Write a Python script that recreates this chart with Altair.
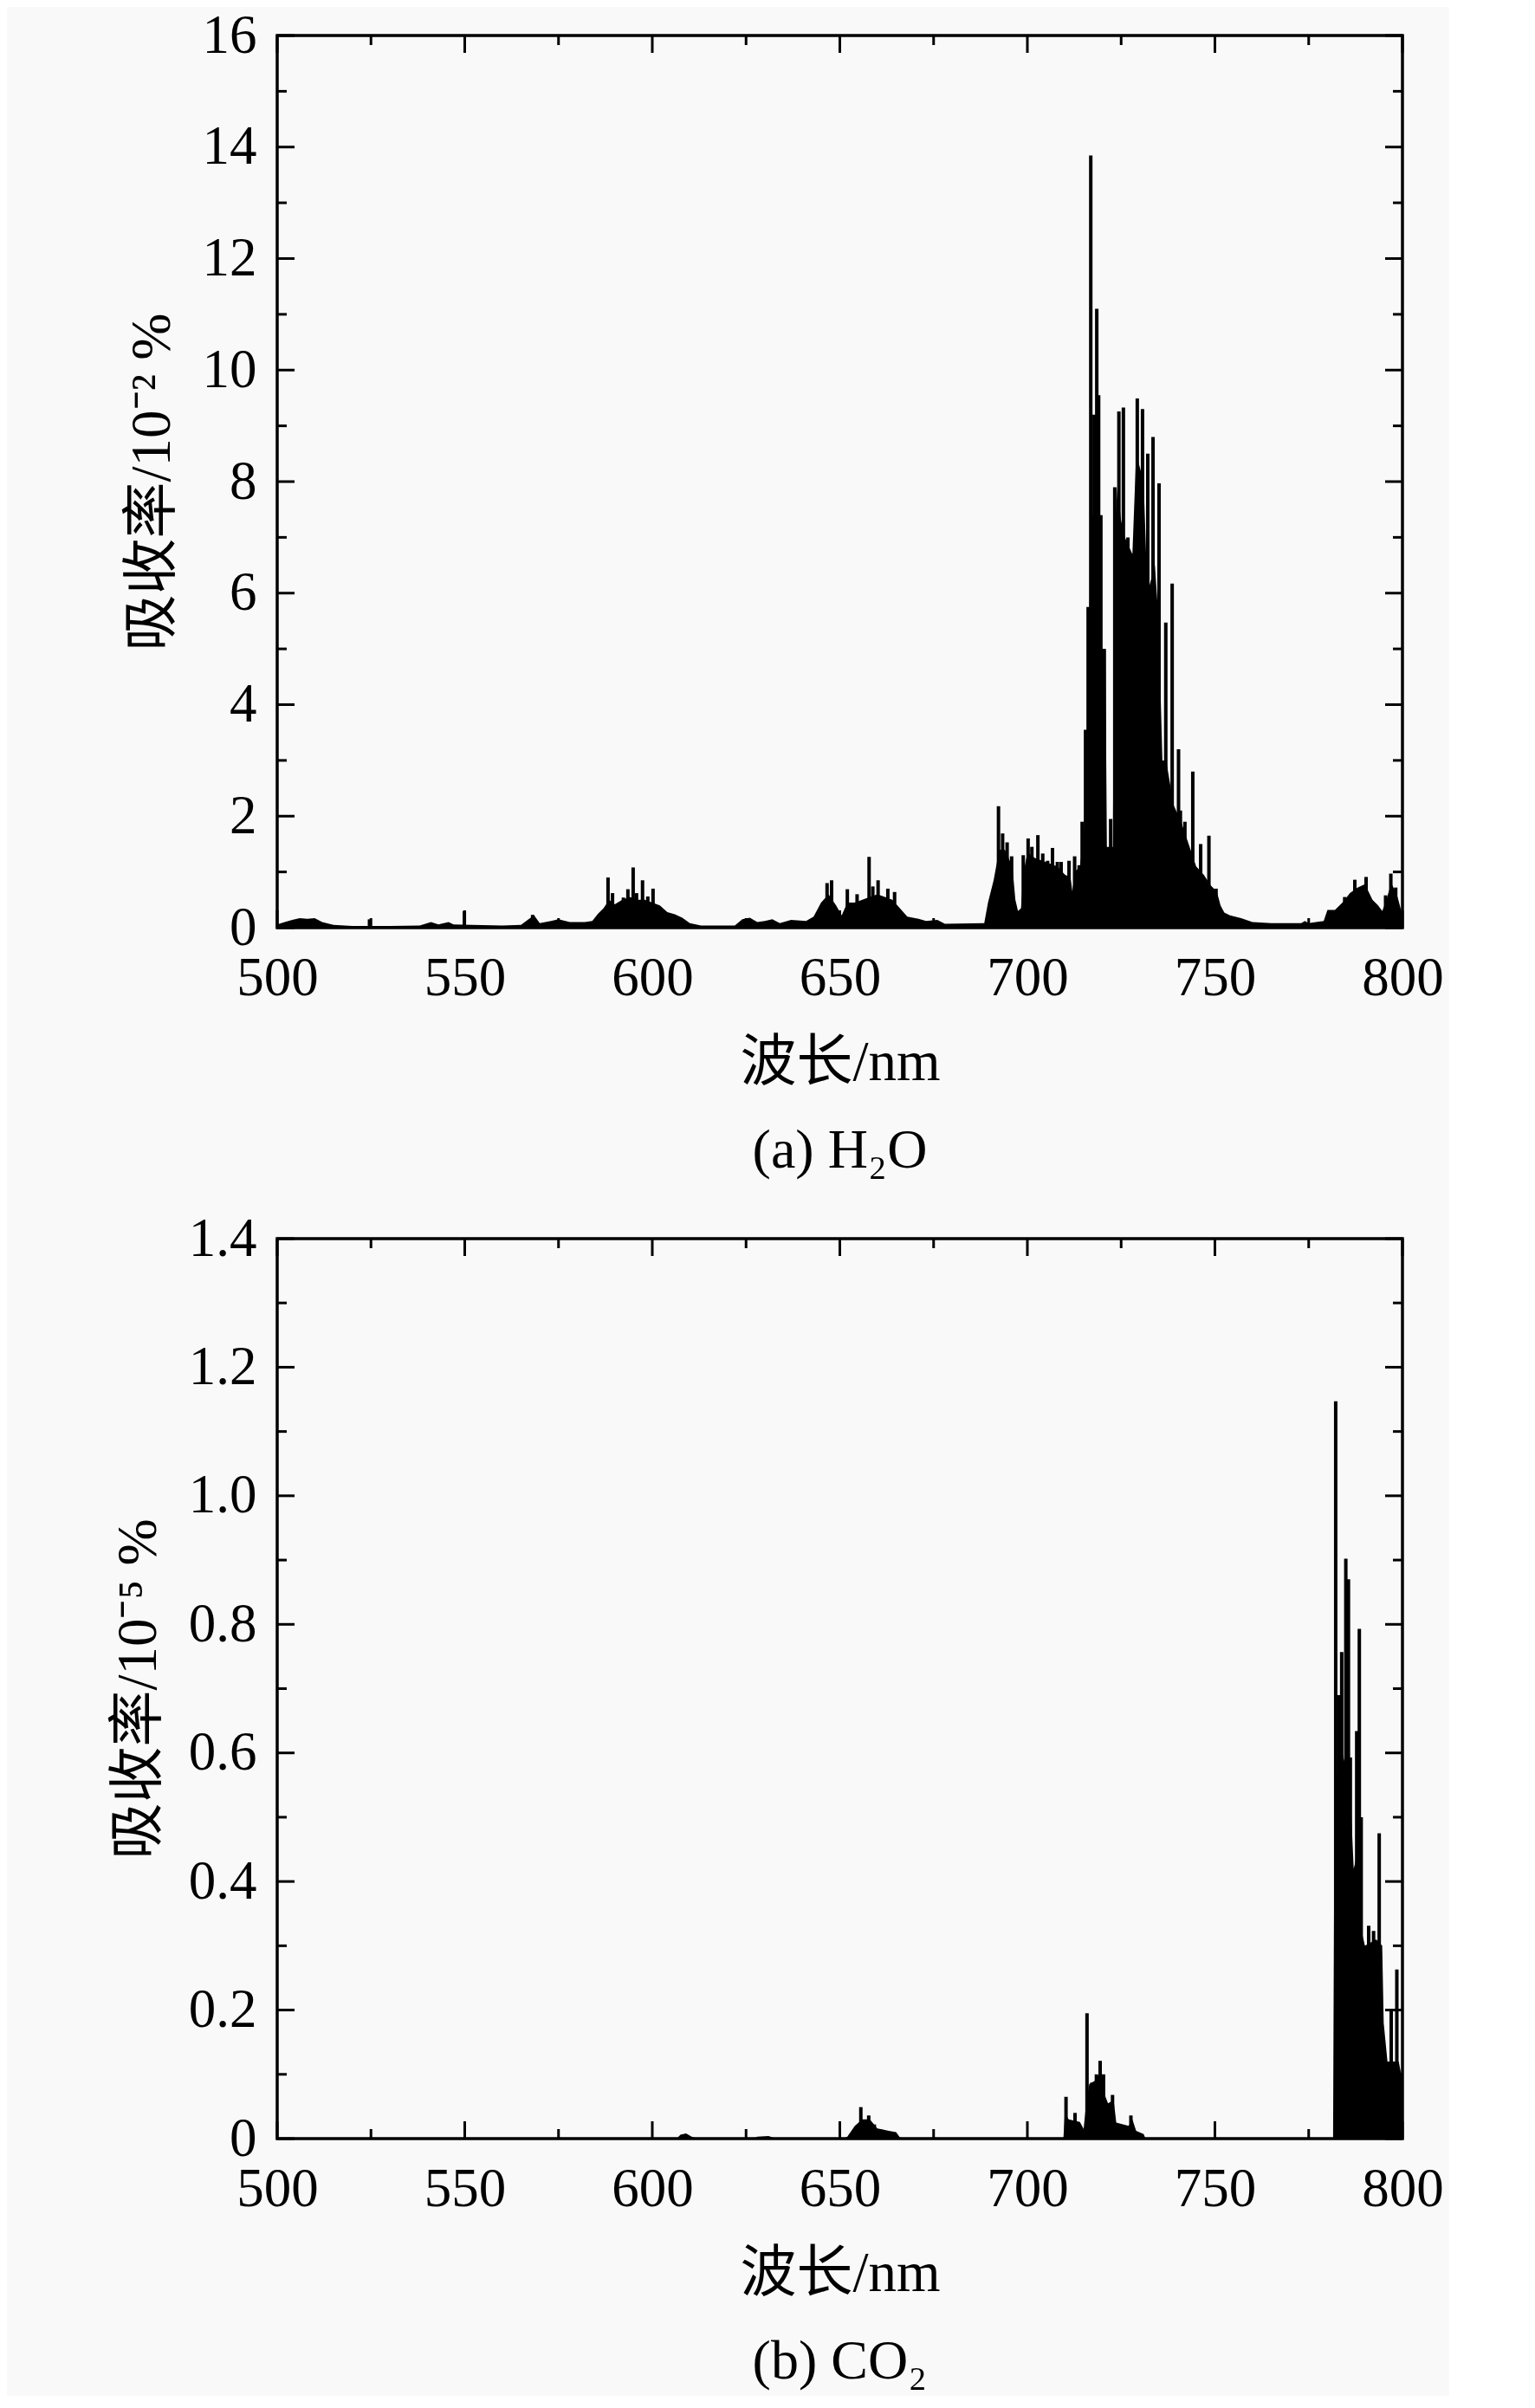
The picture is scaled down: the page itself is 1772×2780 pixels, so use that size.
import altair as alt
import pandas as pd

# ---------------- H2O (a) ----------------
h2o_env_wl = [500, 502, 504, 506, 508, 510, 512, 515, 520, 530, 538, 541, 543, 545.7, 547, 552, 560, 565, 567, 568.5,
              570, 573, 575, 578, 582, 584, 585.5, 587, 588.5, 590, 592, 594, 596, 598, 600, 602, 604, 606, 608, 610,
              613, 622, 624, 626, 628, 630, 632, 634, 637, 641, 643, 645, 647, 649, 650.5, 652, 654, 656, 658, 660,
              662, 664, 666, 668, 671, 673, 676, 678, 688.5, 689.5, 691, 692.5, 694, 696, 696.8, 697.5, 698.3, 699, 700, 702,
              704, 706, 708, 710, 711.5, 712, 712.6, 714, 715, 715.8, 716.5, 717, 719.5, 719.8, 720.8, 721.2, 722.8, 723.2,
              724, 725, 726, 728, 729, 731, 732, 734, 735, 736, 737, 739, 741, 743, 745, 747, 749, 750.5, 751.5, 752.5,
              754, 757, 760, 765, 773, 774, 775, 779, 780, 782, 784, 786, 788, 790, 792, 793.5, 794.6, 795.5, 797, 798.5,
              799.5, 800]
h2o_env_val = [0.06, 0.1, 0.14, 0.17, 0.16, 0.17, 0.1, 0.05, 0.03, 0.03, 0.04, 0.1, 0.06, 0.1, 0.06, 0.05, 0.04, 0.05, 0.15, 0.22,
               0.08, 0.12, 0.15, 0.1, 0.1, 0.12, 0.25, 0.35, 0.5, 0.42, 0.5, 0.55, 0.5, 0.5, 0.45, 0.4, 0.28, 0.24, 0.18, 0.08,
               0.04, 0.04, 0.15, 0.18, 0.1, 0.12, 0.15, 0.08, 0.14, 0.12, 0.2, 0.45, 0.6, 0.4, 0.22, 0.45, 0.45, 0.5, 0.55, 0.6,
               0.55, 0.5, 0.35, 0.2, 0.16, 0.12, 0.14, 0.07, 0.08, 0.45, 0.85, 1.4, 1.4, 1.1, 0.5, 0.3, 0.35, 1.0, 1.35, 1.25,
               1.2, 1.15, 1.1, 0.95, 0.9, 0.65, 1.0, 1.1, 1.6, 3.0, 5.5, 7.4, 7.4, 5.0, 5.0, 1.45, 1.45, 7.0,
               7.9, 7.3, 7.0, 6.7, 8.5, 8.0, 6.0, 6.5, 5.5, 3.0, 3.0, 2.2, 1.9, 1.5, 1.1, 0.95, 0.75, 0.65, 0.4, 0.27,
               0.22, 0.17, 0.1, 0.08, 0.08, 0.12, 0.08, 0.12, 0.32, 0.32, 0.45, 0.62, 0.72, 0.78, 0.5, 0.4, 0.3, 0.45, 0.8, 0.6,
               0.35, 0.25]
h2o_peak_wl = [524.6, 549.9, 568.1, 588.2, 589.4, 592.3, 593.5, 594.9, 595.8, 597.4, 598.8, 600.2, 646.6, 647.8, 652.0,
               654.6, 657.8, 658.8, 660.2, 662.8, 664.6, 692.3, 693.4, 694.6, 695.8, 698.9, 700.2, 701.2, 702.8, 704.1,
               705.4, 706.7, 708.0, 709.0, 711.1, 712.6, 713.8, 714.6, 715.5, 716.2, 716.9, 717.8, 718.5, 719.0, 719.6,
               720.5, 722.2, 723.3, 724.4, 725.6, 726.8, 727.3, 729.3, 730.7, 732.1, 733.5, 735.1, 736.9, 738.6, 740.3,
               740.8, 742.0, 744.1, 746.2, 748.4, 750.3, 784.6, 787.3, 790.3, 795.5, 796.9, 798.2]
h2o_peak_val = [0.15, 0.3, 0.23, 0.9, 0.62, 0.54, 0.69, 1.08, 0.62, 0.85, 0.56, 0.7, 0.8, 0.85, 0.69,
                0.6, 1.27, 0.74, 0.85, 0.7, 0.64, 2.18, 1.69, 1.53, 1.28, 1.3, 1.6, 1.45, 1.66, 1.33,
                1.2, 1.43, 1.18, 1.18, 1.2, 1.28, 1.12, 1.9, 3.55, 5.75, 13.85, 9.2, 11.1, 9.55, 7.4,
                5.0, 1.95, 7.9, 9.26, 9.33, 7.0, 6.68, 9.49, 9.3, 8.5, 8.8, 7.97, 5.47, 6.17, 3.2,
                2.1, 1.9, 2.8, 1.5, 1.65, 0.7, 0.55, 0.86, 0.91, 0.58, 0.97, 0.72]

# ---------------- CO2 (b) ----------------
co2_env_wl = [500, 606.5, 607.5, 609, 610.5, 612, 627, 628, 631, 633, 651, 652, 654, 656, 658, 660, 663, 665, 666, 667,
              709.6, 710, 711, 714, 715, 715.6, 716.5, 718, 719.5, 720.5, 721.5, 723, 723.7, 727, 728, 729, 731, 731.5,
              781.5, 781.9, 784, 786, 787, 788.3, 789.2, 790, 793, 794.6, 795, 796, 799, 800]
co2_env_val = [0, 0, 0.006, 0.008, 0.003, 0, 0, 0.003, 0.004, 0, 0, 0.003, 0.02, 0.03, 0.03, 0.016, 0.012, 0.01, 0.002, 0,
               0, 0.04, 0.03, 0.026, 0.015, 0.05, 0.085, 0.09, 0.105, 0.07, 0.055, 0.06, 0.025, 0.02, 0.03, 0.012, 0.007, 0,
               0, 0.55, 0.6, 0.55, 0.42, 0.45, 0.32, 0.3, 0.31, 0.3, 0.18, 0.12, 0.12, 0.09]
co2_peak_wl = [655.6, 657.7, 659.2, 710.3, 712.7, 715.9, 717.2, 718.4, 719.4, 720.3, 722.7, 727.6, 782.2, 783.0,
               783.8, 784.9, 785.6, 786.1, 787.8, 788.5, 789.0, 791.0, 792.3, 793.8, 797.0, 798.5]
co2_peak_val = [0.049, 0.036, 0.022, 0.065, 0.04, 0.195, 0.087, 0.1, 0.121, 0.1, 0.068, 0.036, 1.147, 0.69,
                0.757, 0.902, 0.87, 0.593, 0.634, 0.793, 0.5, 0.331, 0.323, 0.475, 0.2, 0.263]

# ---------------- axes ----------------
x_major = [500, 550, 600, 650, 700, 750, 800]
x_minor = [525, 575, 625, 675, 725, 775]
h2o_y_major = [0, 2, 4, 6, 8, 10, 12, 14, 16]
h2o_y_minor = [1, 3, 5, 7, 9, 11, 13, 15]
co2_y_major = [0, 0.2, 0.4, 0.6, 0.8, 1.0, 1.2, 1.4]
co2_y_minor = [0.1, 0.3, 0.5, 0.7, 0.9, 1.1, 1.3]

W = 1299
MAJ, MIN = 20, 11
FONT = "Liberation Serif, Noto Sans CJK SC"
LFS = 63   # tick labels
TFS = 65   # axis titles
CFS = 64   # captions


def panel(env_wl, env_val, pk_wl, pk_val, ymax, ymaj, ymin, ytitle, caption, lexpr, H):
    xs = alt.Scale(domain=[500, 800], nice=False, zero=False)
    ys = alt.Scale(domain=[0, ymax], nice=False, zero=True)
    xaxis = alt.Axis(values=x_major, title="波长/nm", format="d", grid=False, domain=False, ticks=False,
                     tickSize=0, labelPadding=27, titlePadding=34, labelFont=FONT, labelFontSize=LFS,
                     titleFont=FONT, titleFontSize=TFS, titleFontWeight="normal", labelColor="black",
                     titleColor="black", labelFlush=False, labelOverlap=False)
    yaxis = alt.Axis(values=ymaj, title=ytitle, labelExpr=lexpr, grid=False, domain=False, ticks=False,
                     tickSize=0, labelPadding=24, titlePadding=24, labelFont=FONT, labelFontSize=LFS,
                     titleFont=FONT, titleFontSize=TFS, titleFontWeight="normal", labelColor="black",
                     titleColor="black", labelFlush=False, labelOverlap=False)
    env = pd.DataFrame({"wl": env_wl, "v": env_val})
    pk = pd.DataFrame({"wl": pk_wl, "v": pk_val})
    X = lambda f: alt.X(f, scale=xs, axis=xaxis)
    Y = lambda f: alt.Y(f, scale=ys, axis=yaxis)

    area = alt.Chart(env).mark_area(color="black", interpolate="linear", strokeWidth=0).encode(
        x=X("wl:Q"), y=Y("v:Q"))
    spikes = alt.Chart(pk).mark_rule(color="black", strokeWidth=4).encode(
        x=X("wl:Q"), y=Y("v:Q"), y2=alt.datum(0))

    layers = [area, spikes]
    xt = [(x_major, MAJ), (x_minor, MIN)]
    yt = [(ymaj, MAJ), (ymin, MIN)]
    for vals, ln in xt:
        d = pd.DataFrame({"t": vals})
        layers.append(alt.Chart(d).mark_rule(color="black", strokeWidth=3).encode(
            x=X("t:Q"), y=alt.value(H), y2=alt.value(H - ln)))
        layers.append(alt.Chart(d).mark_rule(color="black", strokeWidth=3).encode(
            x=X("t:Q"), y=alt.value(0), y2=alt.value(ln)))
    for vals, ln in yt:
        d = pd.DataFrame({"t": vals})
        layers.append(alt.Chart(d).mark_rule(color="black", strokeWidth=3).encode(
            y=Y("t:Q"), x=alt.value(0), x2=alt.value(ln)))
        layers.append(alt.Chart(d).mark_rule(color="black", strokeWidth=3).encode(
            y=Y("t:Q"), x=alt.value(W), x2=alt.value(W - ln)))

    return alt.layer(*layers).properties(
        width=W, height=H,
        title=alt.TitleParams(caption, orient="bottom", anchor="middle", font=FONT, fontSize=CFS,
                              fontWeight="normal", color="black", offset=38))


top = panel(h2o_env_wl, h2o_env_val, h2o_peak_wl, h2o_peak_val, 16, h2o_y_major, h2o_y_minor,
            "吸收率/10⁻² %", "(a) H₂O", "format(datum.value, 'd')", 1030)
bottom = panel(co2_env_wl, co2_env_val, co2_peak_wl, co2_peak_val, 1.4, co2_y_major, co2_y_minor,
               "吸收率/10⁻⁵ %", "(b) CO₂", "datum.value == 0 ? '0' : format(datum.value, '.1f')", 1039)

chart = alt.vconcat(top, bottom, spacing=34).properties(
    background="#f9f9f9",
    padding={"left": 117, "top": 0, "right": 5, "bottom": 5},
).configure_view(stroke="black", strokeWidth=3.5)

chart.save("out.html", embed_options={"renderer": "svg", "actions": False})
